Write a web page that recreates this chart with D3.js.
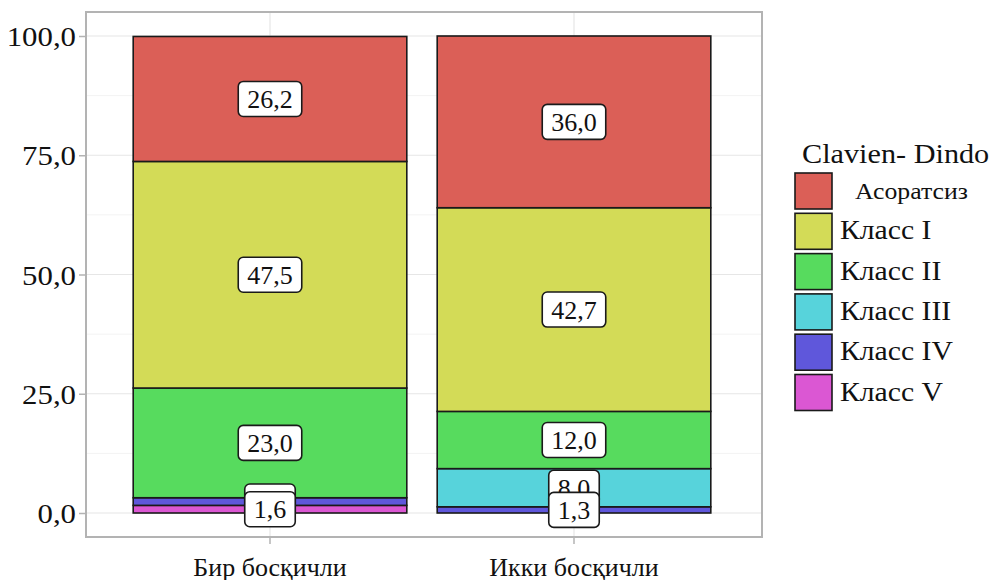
<!DOCTYPE html>
<html>
<head>
<meta charset="utf-8">
<script src="https://cdn.jsdelivr.net/npm/d3@7"></script>
<style>
  html, body { margin: 0; padding: 0; background: #fff; }
  svg { display: block; }
  text { font-family: "Liberation Serif", "DejaVu Serif", serif; fill: #111; }
</style>
</head>
<body>
<svg id="chart" width="990" height="580"></svg>
<script>
// Surgery type (x categories)
const categories = ["Бир босқичли", "Икки босқичли"];

// Clavien-Dindo grades, listed from the top of each stack downwards
const seriesNames = ["Асоратсиз", "Класс I", "Класс II", "Класс III", "Класс IV", "Класс V"];
const seriesColors = ["#DB5F57", "#D3DB57", "#57DB5E", "#57D3DB", "#5F57DB", "#DB57D3"];

// Percentages per grade, one value per category (null = grade absent)
const noComplications = [26.2, 36.0];
const gradeI   = [47.5, 42.7];
const gradeII  = [23.0, 12.0];
const gradeIII = [null, 8.0];
const gradeIV  = [1.6, 1.3];
const gradeV   = [1.6, null];

const seriesValues = [noComplications, gradeI, gradeII, gradeIII, gradeIV, gradeV];

const yTicks = [0, 25, 50, 75, 100];
const yMinor = [12.5, 37.5, 62.5, 87.5];
const legendTitle = "Clavien- Dindo";

const fmt = v => d3.format(".1f")(v).replace(".", ",");

const svg = d3.select("#chart");

// Panel geometry
const panel = { left: 86, right: 762, top: 12, bottom: 537 };

const x = d3.scaleBand()
  .domain(categories)
  .range([118, 726])
  .paddingInner(0.1)
  .paddingOuter(0.05);

const y = d3.scaleLinear().domain([0, 100]).range([513, 36]);

// Panel background & grid
svg.append("rect")
  .attr("x", panel.left).attr("y", panel.top)
  .attr("width", panel.right - panel.left).attr("height", panel.bottom - panel.top)
  .attr("fill", "#fff");

const grid = svg.append("g");
grid.selectAll("line.minor").data(yMinor).join("line")
  .attr("x1", panel.left).attr("x2", panel.right)
  .attr("y1", d => y(d)).attr("y2", d => y(d))
  .attr("stroke", "#f3f3f3").attr("stroke-width", 1);
grid.selectAll("line.major").data(yTicks).join("line")
  .attr("x1", panel.left).attr("x2", panel.right)
  .attr("y1", d => y(d)).attr("y2", d => y(d))
  .attr("stroke", "#e6e6e6").attr("stroke-width", 1.2);
grid.selectAll("line.vmajor").data(categories).join("line")
  .attr("x1", d => x(d) + x.bandwidth() / 2).attr("x2", d => x(d) + x.bandwidth() / 2)
  .attr("y1", panel.top).attr("y2", panel.bottom)
  .attr("stroke", "#e6e6e6").attr("stroke-width", 1.2);

// Build stacked segments (bottom grade first in the stack)
const stackOrder = seriesNames.map((_, i) => i).reverse();
const segments = [];
categories.forEach((cat, ci) => {
  let base = 0;
  stackOrder.forEach(si => {
    const v = seriesValues[si][ci];
    if (v == null) return;
    segments.push({ cat, si, v, y0: base, y1: base + v });
    base += v;
  });
});

// Bars
svg.append("g").selectAll("rect").data(segments).join("rect")
  .attr("x", d => x(d.cat))
  .attr("width", x.bandwidth())
  .attr("y", d => y(d.y1))
  .attr("height", d => y(d.y0) - y(d.y1))
  .attr("fill", d => seriesColors[d.si])
  .attr("stroke", "#1a1a1a")
  .attr("stroke-width", 1.6);

// Value labels: upper grades first, so lower grades sit on top
const labelOrder = segments.slice().sort((a, b) => a.si - b.si);
const labels = svg.append("g");
labelOrder.forEach(d => {
  const g = labels.append("g")
    .attr("transform", `translate(${x(d.cat) + x.bandwidth() / 2},${y((d.y0 + d.y1) / 2)})`);
  const rect = g.append("rect");
  const t = g.append("text")
    .attr("text-anchor", "middle")
    .attr("dy", "0.35em")
    .attr("font-size", 26)
    .text(fmt(d.v));
  const w = t.node().getComputedTextLength() + 18;
  const h = 35;
  rect.attr("x", -w / 2).attr("y", -h / 2).attr("width", w).attr("height", h)
    .attr("rx", 5).attr("ry", 5)
    .attr("fill", "#fff").attr("stroke", "#1a1a1a").attr("stroke-width", 1.6);
});

// Panel border
svg.append("rect")
  .attr("x", panel.left).attr("y", panel.top)
  .attr("width", panel.right - panel.left).attr("height", panel.bottom - panel.top)
  .attr("fill", "none").attr("stroke", "#b3b3b3").attr("stroke-width", 2);

// Y axis
const yAxis = svg.append("g").attr("transform", `translate(${panel.left - 1},0)`)
  .call(d3.axisLeft(y).tickValues(yTicks).tickFormat(fmt).tickSize(6));
yAxis.select(".domain").remove();
yAxis.selectAll(".tick line").attr("stroke", "#b3b3b3").attr("stroke-width", 1.5);
yAxis.selectAll(".tick text")
  .attr("font-family", "Liberation Serif, serif")
  .attr("font-size", 28).attr("fill", "#111")
  .attr("x", 0).attr("dy", "0.34em")
  .attr("transform", "translate(-9,0) scale(1.1,1)");

// X axis
const xAxis = svg.append("g").attr("transform", `translate(0,${panel.bottom + 1})`)
  .call(d3.axisBottom(x).tickSize(6).tickPadding(14));
xAxis.select(".domain").remove();
xAxis.selectAll(".tick line").attr("stroke", "#b3b3b3").attr("stroke-width", 1.5);
xAxis.selectAll(".tick text")
  .attr("font-family", "Liberation Serif, serif")
  .attr("font-size", 26).attr("fill", "#111");

// Legend
const legend = svg.append("g");
legend.append("text")
  .attr("transform", "translate(802,163) scale(1.12,1)")
  .attr("font-size", 27)
  .text(legendTitle);
seriesNames.forEach((name, i) => {
  const top = 173 + i * 40.3;
  legend.append("rect")
    .attr("x", 795).attr("y", top)
    .attr("width", 37).attr("height", 36)
    .attr("fill", seriesColors[i])
    .attr("stroke", "#1a1a1a").attr("stroke-width", 1.6);
  const first = i === 0;
  legend.append("text")
    .attr("transform", `translate(${first ? 855 : 840},${top + 18}) scale(${first ? 1.12 : 1.1},1)`)
    .attr("dy", first ? "0.35em" : "0.3em")
    .attr("font-size", first ? 23 : 27)
    .text(name);
});
</script>
</body>
</html>
